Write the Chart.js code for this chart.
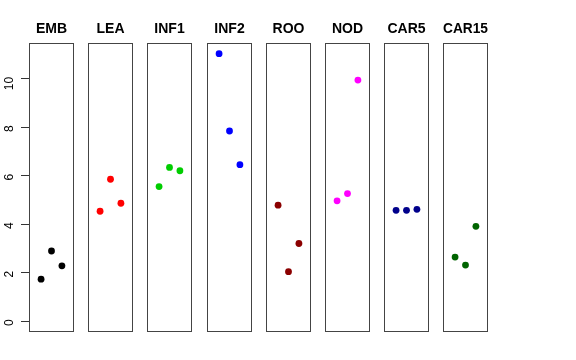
<!DOCTYPE html>
<html>
<head>
<meta charset="utf-8">
<script src="https://cdn.jsdelivr.net/npm/chart.js@4.4.0/dist/chart.umd.min.js"></script>
<style>
  body { margin: 0; background: #fff; }
  #wrap { position: relative; width: 576px; height: 360px; }
  #wrap canvas { position: absolute; top: 0; }
</style>
</head>
<body>
<div id="wrap"></div>
<script>
const groups = ['EMB', 'LEA', 'INF1', 'INF2', 'ROO', 'NOD', 'CAR5', 'CAR15'];
const colors = ['#000000', '#FF0000', '#00CD00', '#0000FF', '#8B0000', '#FF00FF', '#00008B', '#006400'];
const reps = [1, 2, 3];
const emb = [1.74, 2.90, 2.29];
const lea = [4.54, 5.86, 4.87];
const inf1 = [5.56, 6.35, 6.21];
const inf2 = [11.04, 7.85, 6.46];
const roo = [4.79, 2.05, 3.21];
const nod = [4.97, 5.27, 9.95];
const car5 = [4.58, 4.58, 4.62];
const car15 = [2.65, 2.32, 3.92];
const yTicks = [0, 2, 4, 6, 8, 10];
const values = [emb, lea, inf1, inf2, roo, nod, car5, car15];

// panel frame, like R's box()
const boxPlugin = {
  id: 'box',
  afterDraw: (chart) => {
    const { ctx, chartArea: a } = chart;
    ctx.save();
    ctx.strokeStyle = '#444';
    ctx.lineWidth = 1;
    ctx.strokeRect(Math.round(a.left) + 0.5, Math.round(a.top) + 0.5,
      Math.round(a.right - a.left) - 1, Math.round(a.bottom - a.top) - 1);
    ctx.restore();
  }
};

const wrap = document.getElementById('wrap');
const axisW = 29, panelW = 45, canvasH = 332;

groups.forEach((name, i) => {
  const first = i === 0;
  const left = Math.round(29 + i * 59.2);
  const cv = document.createElement('canvas');
  cv.width = first ? axisW + panelW : panelW;
  cv.height = canvasH;
  cv.style.left = (first ? left - axisW : left) + 'px';
  wrap.appendChild(cv);

  new Chart(cv, {
    type: 'scatter',
    data: {
      datasets: [{
        data: reps.map((x, k) => ({ x, y: values[i][k] })),
        backgroundColor: colors[i], borderColor: colors[i],
        pointRadius: 3.4, pointHoverRadius: 3.4, borderWidth: 0
      }]
    },
    options: {
      responsive: false, animation: false,
      layout: { padding: 0, autoPadding: false },
      plugins: {
        legend: { display: false }, tooltip: { enabled: false },
        title: {
          display: true, text: name, color: '#000', fullSize: false,
          font: { family: "'Liberation Sans', Arial, sans-serif", size: 14, weight: 'bold', lineHeight: 1.2 },
          padding: { top: 20.6, bottom: 5.6 }
        }
      },
      scales: {
        x: { type: 'linear', min: -0.16, max: 4.16, display: false },
        y: {
          type: 'linear', min: -0.44, max: 11.48, display: first,
          afterBuildTicks: s => { s.ticks = yTicks.map(v => ({ value: v })); },
          afterFit: s => {
            if (!first) return;
            s.width = axisW;
            s.paddingTop = 0; s.paddingBottom = 0;
          },
          grid: { drawOnChartArea: false, drawTicks: true, tickLength: 8, color: '#333' },
          border: { display: false },
          ticks: {
            minRotation: 90, maxRotation: 90, padding: 11, labelOffset: -2, color: '#000',
            font: { family: "'Liberation Sans', Arial, sans-serif", size: 12 }
          }
        }
      }
    },
    plugins: [boxPlugin]
  });
});
</script>
</body>
</html>
